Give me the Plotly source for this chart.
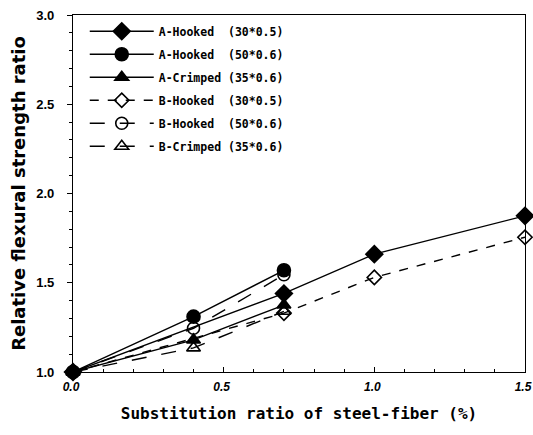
import plotly.graph_objects as go

names = ["A-Hooked  (30*0.5)", "A-Hooked  (50*0.6)", "A-Crimped (35*0.6)",
         "B-Hooked  (30*0.5)", "B-Hooked  (50*0.6)", "B-Crimped (35*0.6)"]
x_hooked30 = [0.0, 0.7, 1.0, 1.5]
x_short = [0.0, 0.4, 0.7]
a_hooked_30 = [1.0, 1.44, 1.66, 1.875]
a_hooked_50 = [1.0, 1.31, 1.57]
a_crimped_35 = [1.0, 1.18, 1.375]
b_hooked_30 = [1.0, 1.33, 1.53, 1.755]
b_hooked_50 = [1.0, 1.245, 1.545]
b_crimped_35 = [1.0, 1.135, 1.34]
x_ticks = [0.0, 0.5, 1.0, 1.5]
x_ticklabels = ["0.0", "0.5", "1.0", "1.5"]
y_ticks = [1.0, 1.5, 2.0, 2.5, 3.0]
y_ticklabels = ["1.0", "1.5", "2.0", "2.5", "3.0"]

xs = [x_hooked30, x_short, x_short, x_hooked30, x_short, x_short]
ys = [a_hooked_30, a_hooked_50, a_crimped_35, b_hooked_30, b_hooked_50, b_crimped_35]
symbols = ["diamond", "circle", "triangle-up", "diamond-open", "circle-open", "triangle-up-open"]
dashes = ["solid", "solid", "solid", "dash", "longdash", "longdash"]
sizes = [13, 13, 12, 11, 12, 12]

fig = go.Figure()
for i in range(6):
    fig.add_trace(go.Scatter(
        x=xs[i], y=ys[i], name=names[i], mode="lines+markers",
        legendgroup=str(i), cliponaxis=False,
        line=dict(color="black", width=1.4, dash=dashes[i]),
        marker=dict(symbol=symbols[i], size=sizes[i], color="black",
                    line=dict(color="black", width=1.6)),
    ))

fig.update_layout(
    width=533, height=435,
    margin=dict(l=73, r=8, t=15, b=63, autoexpand=False),
    paper_bgcolor="white", plot_bgcolor="white",
    font=dict(family="Liberation Sans", color="black"),
    showlegend=True,
    legend=dict(x=0.026, y=0.995, xanchor="left", yanchor="top",
                bgcolor="rgba(0,0,0,0)", borderwidth=0,
                traceorder="grouped", tracegroupgap=4, itemwidth=64,
                font=dict(family="DejaVu Sans Mono", size=11.5, weight="bold")),
)
fig.update_xaxes(
    range=[0, 1.5], tickvals=x_ticks, ticktext=x_ticklabels, automargin=False,
    ticks="inside", ticklen=5, tickwidth=1, tickcolor="black",
    minor=dict(dtick=0.1, ticks="inside", ticklen=3, tickcolor="black"),
    showline=True, linecolor="black", linewidth=1.2, mirror=True,
    showgrid=False, zeroline=False, ticklabelstandoff=3, ticklabeloverflow="allow",
    ticklabelshift=-2,
    tickfont=dict(family="Liberation Sans", size=12, weight="bold", style="italic"),
    title=dict(text="Substitution ratio of steel-fiber (%)", standoff=15,
               font=dict(family="DejaVu Sans Mono", size=16, weight="bold")),
)
fig.update_yaxes(
    range=[1.0, 3.0], tickvals=y_ticks, ticktext=y_ticklabels, automargin=False,
    ticks="outside", ticklen=5, tickwidth=1, tickcolor="black",
    minor=dict(dtick=0.1, ticks="outside", ticklen=3, tickcolor="black"),
    showline=True, linecolor="black", linewidth=1.2, mirror=True,
    showgrid=False, zeroline=False, ticklabelstandoff=10,
    tickfont=dict(family="Liberation Sans", size=13, weight="bold"),
    title=dict(text="Relative flexural strength ratio", standoff=5,
               font=dict(family="DejaVu Sans", size=18, weight="bold")),
)

fig.write_html("out.html", config={"displayModeBar": False},
               post_script="document.body.style.margin='0';")
